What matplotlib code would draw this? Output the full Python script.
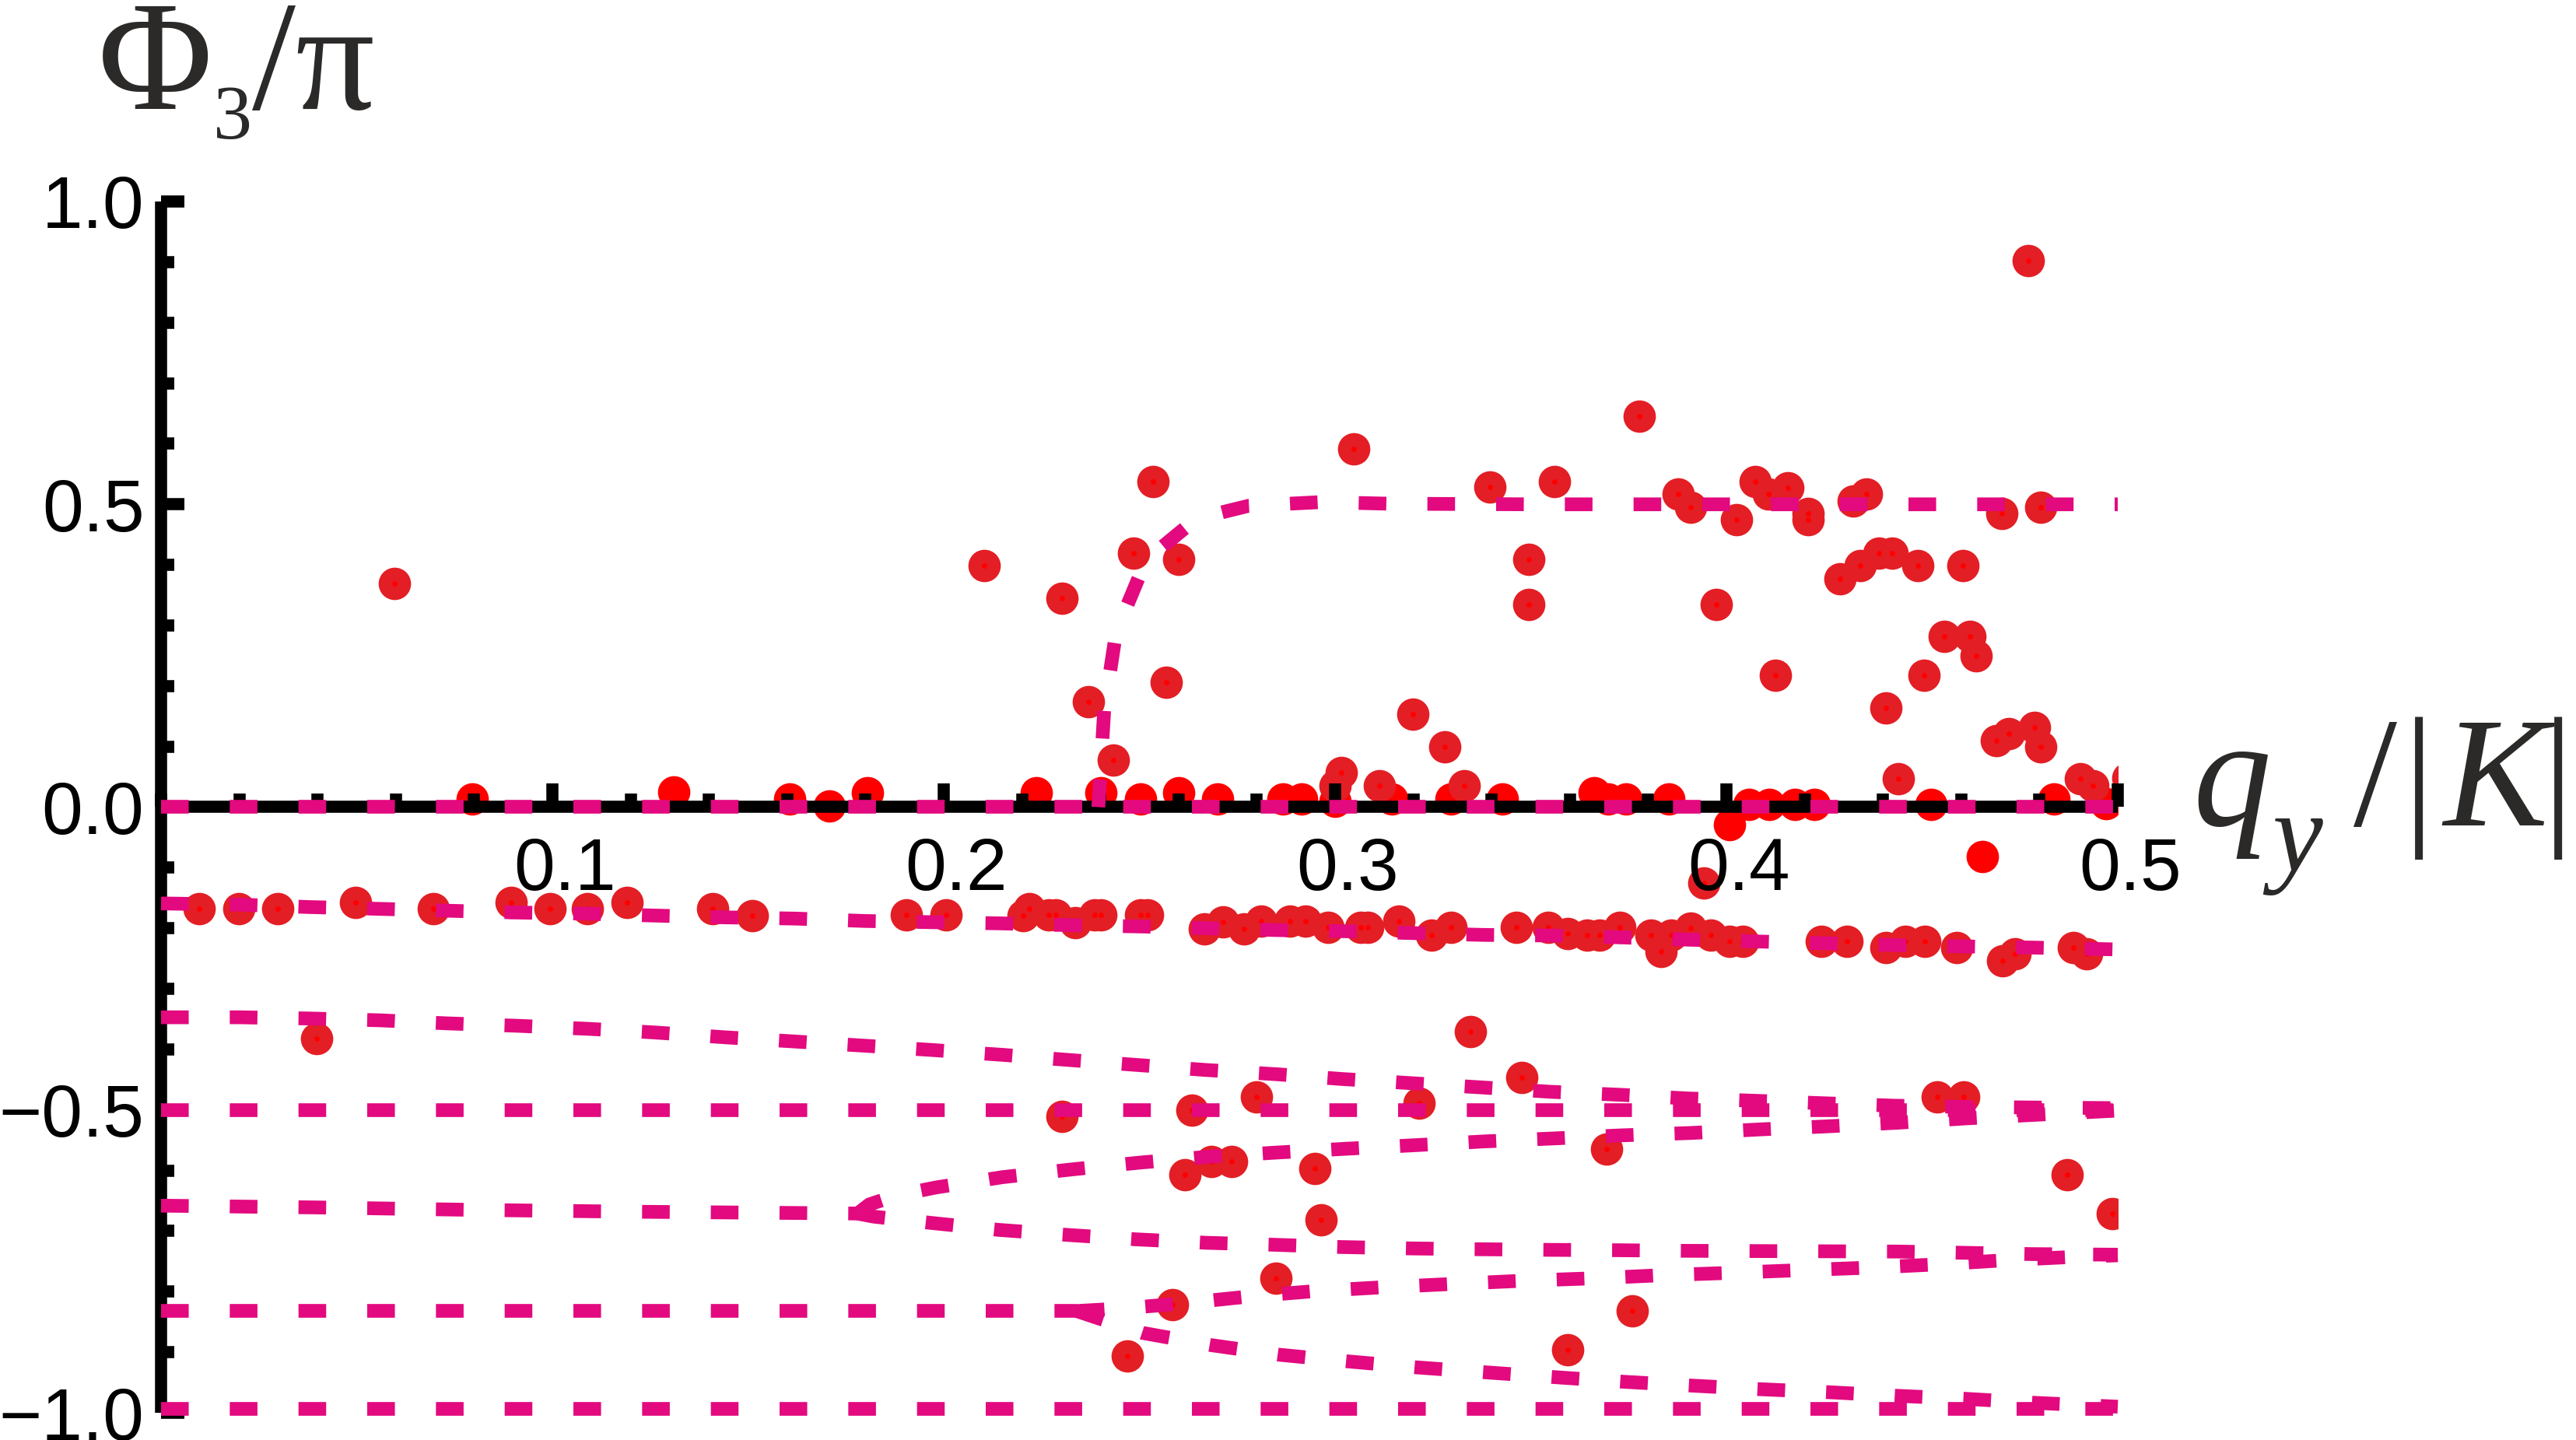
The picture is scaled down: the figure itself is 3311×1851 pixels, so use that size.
import matplotlib
matplotlib.use("Agg")
import matplotlib.pyplot as plt
from matplotlib.ticker import FixedLocator, MultipleLocator, FixedFormatter
import matplotlib.transforms as mtransforms

# ---------------- data ----------------
zero_q = [0.0, 0.5]
zero_phi = [0.0, 0.0]

curveA_q = [0.0, 0.02, 0.038, 0.056, 0.073, 0.091, 0.109, 0.126, 0.144, 0.162, 0.18, 0.197, 0.215,
            0.233, 0.25, 0.268, 0.285, 0.303, 0.32, 0.338, 0.356, 0.373, 0.391, 0.409, 0.426, 0.444,
            0.461, 0.479, 0.5]
curveA_phi = [-0.159, -0.161, -0.165, -0.168, -0.171, -0.174, -0.176, -0.179, -0.182, -0.184, -0.188,
              -0.190, -0.192, -0.195, -0.197, -0.200, -0.203, -0.205, -0.208, -0.211, -0.212, -0.215,
              -0.219, -0.222, -0.225, -0.228, -0.230, -0.232, -0.235]

curveB_q = [0.0, 0.02, 0.038, 0.056, 0.073, 0.091, 0.109, 0.126, 0.144, 0.162, 0.18, 0.197, 0.215,
            0.233, 0.25, 0.267, 0.285, 0.302, 0.32, 0.338, 0.355, 0.373, 0.39, 0.408, 0.425, 0.443,
            0.461, 0.479, 0.5]
curveB_phi = [-0.347, -0.347, -0.349, -0.352, -0.357, -0.361, -0.366, -0.372, -0.380, -0.387, -0.394,
              -0.401, -0.409, -0.418, -0.426, -0.434, -0.441, -0.449, -0.456, -0.463, -0.470, -0.475,
              -0.481, -0.485, -0.489, -0.493, -0.495, -0.496, -0.497]

half_q = [0.0, 0.5]
half_phi = [-0.5, -0.5]

curveH_q = [0.0, 0.04, 0.08, 0.12, 0.16, 0.178]
curveH_phi = [-0.658, -0.661, -0.665, -0.668, -0.670, -0.671]

curveC_q = [0.178, 0.181, 0.188, 0.198, 0.215, 0.233, 0.25, 0.268, 0.286, 0.303, 0.321, 0.338, 0.356,
            0.373, 0.391, 0.409, 0.426, 0.444, 0.461, 0.479, 0.5]
curveC_phi = [-0.671, -0.656, -0.641, -0.628, -0.611, -0.598, -0.587, -0.577, -0.570, -0.564, -0.558,
              -0.552, -0.547, -0.542, -0.538, -0.532, -0.527, -0.521, -0.514, -0.508, -0.501]

curveD_q = [0.178, 0.182, 0.196, 0.214, 0.232, 0.249, 0.267, 0.284, 0.302, 0.32, 0.337, 0.355, 0.372,
            0.39, 0.444, 0.478, 0.5]
curveD_phi = [-0.671, -0.676, -0.686, -0.698, -0.7065, -0.7136, -0.7193, -0.7225, -0.7264, -0.7287,
              -0.730, -0.731, -0.7316, -0.7326, -0.7338, -0.738, -0.739]

curveI_q = [0.0, 0.234]
curveI_phi = [-0.832, -0.832]

curveE_q = [0.234, 0.245, 0.26, 0.278, 0.295, 0.313, 0.331, 0.348, 0.366, 0.383, 0.401, 0.419, 0.436,
            0.454, 0.4715, 0.489, 0.5]
curveE_phi = [-0.832, -0.828, -0.820, -0.808, -0.799, -0.7925, -0.787, -0.782, -0.778, -0.773, -0.769,
              -0.7645, -0.7605, -0.755, -0.748, -0.7425, -0.740]

curveF_q = [0.234, 0.240, 0.2507, 0.268, 0.2855, 0.303, 0.3207, 0.338, 0.3557, 0.3732, 0.3908, 0.4083,
            0.426, 0.4436, 0.4612, 0.4789, 0.5]
curveF_phi = [-0.832, -0.845, -0.868, -0.888, -0.904, -0.915, -0.925, -0.933, -0.941, -0.9486, -0.955,
              -0.961, -0.966, -0.972, -0.977, -0.9836, -0.990]

one_q = [0.0, 0.5]
one_phi = [-0.993, -0.993]

curveG_q = [0.2395, 0.2400, 0.2410, 0.2437, 0.2470, 0.2499, 0.2555, 0.2617, 0.270, 0.278, 0.2963,
            0.314, 0.35, 0.5]
curveG_phi = [0.0, 0.05, 0.16, 0.274, 0.335, 0.380, 0.428, 0.461, 0.485, 0.4977, 0.5036, 0.501, 0.5, 0.5]

# numerical points (dark red with bright centre)
dark_q = [0.0596, 0.2103, 0.2303, 0.2369, 0.2434, 0.2485, 0.2535, 0.2568, 0.2600, 0.3000, 0.3015,
          0.3048, 0.3114, 0.3198, 0.3280, 0.3330, 0.3396, 0.3495, 0.3495, 0.3561, 0.3777, 0.3876,
          0.3909, 0.3942, 0.3975, 0.4026, 0.4074, 0.4107, 0.4125, 0.4157, 0.4209, 0.4209, 0.4290,
          0.4324, 0.4341, 0.4357, 0.4390, 0.4407, 0.4423, 0.4440, 0.4489, 0.4505, 0.4556, 0.4605,
          0.4622, 0.4639, 0.4689, 0.4704, 0.4722, 0.4771, 0.4788, 0.4803, 0.4803, 0.4904, 0.4937,
          0.5026,
          # band near -0.2
          0.0097, 0.0199, 0.0298, 0.0497, 0.0696, 0.0895, 0.0994, 0.109, 0.119, 0.141, 0.151, 0.1905,
          0.2005, 0.2203, 0.2219, 0.2268, 0.2286, 0.2336, 0.2386, 0.2402, 0.2503, 0.252, 0.2666,
          0.2714, 0.2767, 0.2811, 0.2885, 0.2925, 0.2982, 0.3066, 0.3083, 0.3163, 0.3246, 0.3296,
          0.3463, 0.3545, 0.3594, 0.3644, 0.3676, 0.3728, 0.3808, 0.3833, 0.3859, 0.3909, 0.396,
          0.4008, 0.4042, 0.4242, 0.4308, 0.4407, 0.4457, 0.4506, 0.4589, 0.4705, 0.4738, 0.4887,
          0.492,
          # lower region
          0.0398, 0.2302, 0.2470, 0.2585, 0.2617, 0.2634, 0.2683, 0.2735, 0.2799, 0.2849, 0.2948,
          0.2965, 0.3214, 0.3345, 0.3478, 0.3595, 0.3694, 0.3760, 0.4539, 0.4606, 0.4871, 0.4987]
dark_phi = [0.369, 0.399, 0.3455, 0.174, 0.078, 0.420, 0.538, 0.206, 0.4095, 0.035, 0.057,
            0.5915, 0.035, 0.153, 0.0998, 0.035, 0.528, 0.4094, 0.335, 0.538, 0.6455, 0.5175,
            0.4954, -0.1248, 0.335, 0.474, 0.538, 0.5175, 0.2177, 0.527, 0.485, 0.474, 0.3775,
            0.506, 0.3988, 0.517, 0.420, 0.1638, 0.420, 0.0465, 0.3988, 0.2177, 0.282, 0.3988,
            0.282, 0.250, 0.110, 0.485, 0.121, 0.9026, 0.1317, 0.0998, 0.4954, 0.0465, 0.035,
            0.048,
            -0.168, -0.168, -0.168, -0.157, -0.168, -0.157, -0.168, -0.168, -0.157, -0.168, -0.179,
            -0.178, -0.178, -0.179, -0.168, -0.178, -0.178, -0.191, -0.178, -0.178, -0.178, -0.178,
            -0.201, -0.190, -0.201, -0.188, -0.188, -0.188, -0.199, -0.199, -0.199, -0.188, -0.211,
            -0.199, -0.199, -0.199, -0.209, -0.211, -0.211, -0.199, -0.211, -0.238, -0.211, -0.200,
            -0.211, -0.221, -0.221, -0.221, -0.221, -0.232, -0.221, -0.221, -0.232, -0.254, -0.242,
            -0.232, -0.242,
            -0.382, -0.5107, -0.906, -0.821, -0.607, -0.500, -0.5856, -0.5856, -0.479, -0.778,
            -0.5964, -0.682, -0.489, -0.371, -0.4464, -0.896, -0.5646, -0.832, -0.479, -0.479,
            -0.607, -0.671]

# numerical points lying near zero (plain bright red)
bright_q = [0.0795, 0.1310, 0.1607, 0.1708, 0.1806, 0.2236, 0.2402, 0.2502, 0.2600, 0.2700, 0.2867,
            0.2915, 0.3000, 0.3146, 0.3297, 0.3428, 0.3662, 0.3697, 0.3744, 0.3853, 0.4008, 0.4058,
            0.4109, 0.4174, 0.4225, 0.4523, 0.4655, 0.4837, 0.4970]
bright_phi = [0.014, 0.025, 0.014, 0.002, 0.024, 0.024, 0.024, 0.014, 0.024, 0.014, 0.014,
              0.014, 0.009, 0.014, 0.014, 0.014, 0.024, 0.014, 0.014, 0.014, -0.029, 0.004,
              0.004, 0.004, 0.004, 0.004, -0.082, 0.014, 0.006]

x_major = [0.1, 0.2, 0.3, 0.4, 0.5]
x_major_labels = ["0.1", "0.2", "0.3", "0.4", "0.5"]
y_major = [-1.0, -0.5, 0.0, 0.5, 1.0]
y_major_labels = ["\u22121.0", "\u22120.5", "0.0", "0.5", "1.0"]

# ---------------- style ----------------
W, H = 3312, 1851
plt.rcParams['lines.scale_dashes'] = False
LINE_COLOR = '#E3097F'
DARK_RED = '#E31E25'
BRIGHT_RED = '#FF0000'
TEXT_GREY = '#2B2A29'

fig = plt.figure(figsize=(W / 100, H / 100), dpi=100)
ax = fig.add_axes([207 / W, 1 - 1816 / H, 2515 / W, 1557 / H])
ax.set_xlim(0, 0.5)
ax.set_ylim(-1, 1)

# points
ax.scatter(bright_q, bright_phi, s=900, color=BRIGHT_RED, linewidths=0, zorder=1)
ax.scatter(dark_q, dark_phi, s=900, color=DARK_RED, linewidths=0, zorder=1.2)
ax.scatter(dark_q, dark_phi, s=25, color=BRIGHT_RED, linewidths=0, zorder=1.3)

# dashed theory curves
dash = (0, (25.6, 38.0))
for cq, cp in [(zero_q, zero_phi), (curveA_q, curveA_phi), (curveB_q, curveB_phi),
               (half_q, half_phi), (curveH_q, curveH_phi), (curveC_q, curveC_phi),
               (curveD_q, curveD_phi), (curveI_q, curveI_phi), (curveE_q, curveE_phi),
               (curveF_q, curveF_phi), (one_q, one_phi), (curveG_q, curveG_phi)]:
    ax.plot(cq, cp, color=LINE_COLOR, lw=12.7, linestyle=dash, dash_capstyle='butt',
            solid_capstyle='butt', zorder=4, clip_on=False)

# axes / spines
ax.set_axisbelow(False)
for s in ['top', 'right']:
    ax.spines[s].set_visible(False)
ax.spines['bottom'].set_position(('data', 0))
ax.spines['bottom'].set_bounds(0, 0.5)
ax.spines['left'].set_bounds(-1, 1)
for s in ['left', 'bottom']:
    ax.spines[s].set_linewidth(11.2)
    ax.spines[s].set_color('black')
    ax.spines[s].set_zorder(3)
    ax.spines[s].set_capstyle('butt')

ax.xaxis.set_major_locator(FixedLocator(x_major))
ax.xaxis.set_major_formatter(FixedFormatter(x_major_labels))
ax.xaxis.set_minor_locator(MultipleLocator(0.02))
ax.yaxis.set_major_locator(FixedLocator(y_major))
ax.yaxis.set_major_formatter(FixedFormatter(y_major_labels))
ax.yaxis.set_minor_locator(MultipleLocator(0.1))

ax.tick_params(axis='both', which='major', direction='in', length=21.5, width=11.2,
               color='black', labelsize=68, labelcolor='black')
ax.tick_params(axis='both', which='minor', direction='in', length=12.5, width=11.2, color='black')
ax.tick_params(axis='x', which='major', pad=27)
ax.tick_params(axis='y', which='major', pad=15.5)
for lbl in ax.get_xticklabels() + ax.get_yticklabels():
    lbl.set_fontfamily('Liberation Sans')

# shift x tick labels slightly right (as in the reference)
off = mtransforms.ScaledTranslation(16 / 100, 0, fig.dpi_scale_trans)
for t in ax.xaxis.get_major_ticks():
    t.label1.set_transform(t.label1.get_transform() + off)


def ptext(xpx, ypx, s, **kw):
    fig.text(xpx / W, 1 - ypx / H, s, **kw)


# y-axis label  Φ3/π
ptext(126, 140, "\u03a6", fontsize=145, family='Liberation Serif', color=TEXT_GREY,
      ha='left', va='baseline')
ptext(274, 178, "3", fontsize=72, family='Liberation Serif', color=TEXT_GREY,
      ha='left', va='baseline')
ptext(324, 140, "/\u03c0", fontsize=145, family='Liberation Serif', color=TEXT_GREY,
      ha='left', va='baseline')

# x-axis label  q_y /|K|
ptext(2818, 1061, "q", fontsize=145, family='Liberation Serif', style='italic', color=TEXT_GREY,
      ha='left', va='baseline')
ptext(2920, 1120, "y", fontsize=105, family='Liberation Serif', style='italic', color=TEXT_GREY,
      ha='left', va='baseline')
ptext(3025, 1061, "/", fontsize=145, family='Liberation Serif', color=TEXT_GREY,
      ha='left', va='baseline')
ptext(3089, 1061, "|", fontsize=145, family='Liberation Serif', color=TEXT_GREY,
      ha='left', va='baseline')
ptext(3140, 1061, "K", fontsize=145, family='Liberation Serif', style='italic', color=TEXT_GREY,
      ha='left', va='baseline')
ptext(3268, 1061, "|", fontsize=145, family='Liberation Serif', color=TEXT_GREY,
      ha='left', va='baseline')

fig.savefig('out.png', dpi=100)
